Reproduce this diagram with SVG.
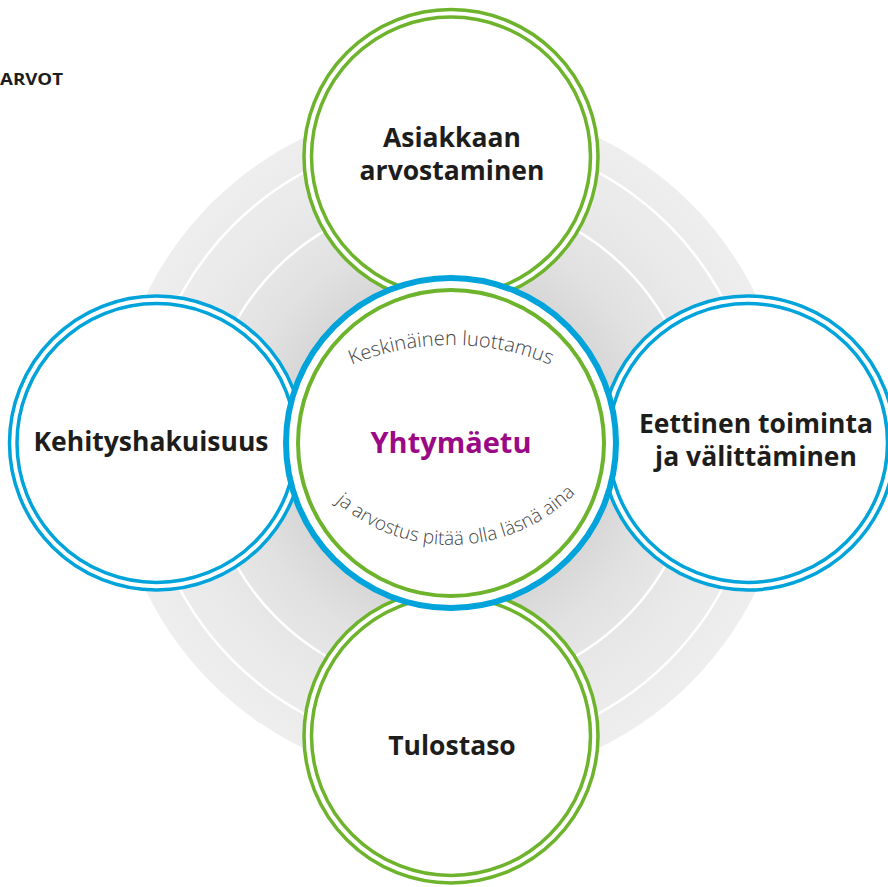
<svg xmlns="http://www.w3.org/2000/svg" width="888" height="887" viewBox="0 0 888 887">
<defs>
<radialGradient id="bg" cx="451" cy="443" r="339" gradientUnits="userSpaceOnUse">
<stop offset="0.46" stop-color="#d5d5d5"/>
<stop offset="0.62" stop-color="#e1e1e1"/>
<stop offset="0.8" stop-color="#e9e9e9"/>
<stop offset="1" stop-color="#eeeeee"/>
</radialGradient>
<path id="arcTop" d="M 285,405 A 260,260 0 0 1 617,405"/>
<path id="arcBot" d="M 290,440 A 176,176 0 0 0 612,440"/>
</defs>
<style>
.ring-g{fill:none;stroke:#6db32c;stroke-width:3.5}
.ring-b{fill:none;stroke:#00a3da;stroke-width:3.5}
.fillw{fill:#ffffff}
.lbl{font-family:"Open Sans","Noto Sans",sans-serif;font-weight:700;font-size:26.5px;fill:#1d1d1b;text-anchor:middle}
.arc{font-family:"Open Sans","Noto Sans",sans-serif;font-weight:300;font-size:20px;fill:#444444}
</style>
<rect width="888" height="887" fill="#ffffff"/>
<g id="background">
<circle cx="451" cy="443" r="339" fill="url(#bg)"/>
<circle cx="451" cy="443" r="308" fill="none" stroke="#ffffff" stroke-width="2.5"/>
<circle cx="451" cy="443" r="247" fill="none" stroke="#ffffff" stroke-width="2.5"/>
</g>
<text id="title" x="0" y="85" style="font-family:'Open Sans','Noto Sans',sans-serif;font-weight:700;font-size:16px;fill:#1d1d1b" textLength="63" lengthAdjust="spacingAndGlyphs">ARVOT</text>
<g id="connectors"></g>
<g id="node-top">
<circle class="fillw" cx="451" cy="156.5" r="147"/>
<circle class="ring-g" cx="451" cy="156.5" r="147"/>
<circle class="ring-g" cx="451" cy="156.5" r="139.5"/>
<text class="lbl" x="452" y="147">Asiakkaan</text>
<text class="lbl" x="452" y="180">arvostaminen</text>
</g>
<g id="node-bottom">
<circle class="fillw" cx="451" cy="736" r="147"/>
<circle class="ring-g" cx="451" cy="736" r="147"/>
<circle class="ring-g" cx="451" cy="736" r="139.5"/>
<text class="lbl" x="452" y="755">Tulostaso</text>
</g>
<g id="node-left">
<circle class="fillw" cx="156.5" cy="443" r="147"/>
<circle class="ring-b" cx="156.5" cy="443" r="147"/>
<circle class="ring-b" cx="156.5" cy="443" r="139.5"/>
<text class="lbl" x="151" y="451">Kehityshakuisuus</text>
</g>
<g id="node-right">
<circle class="fillw" cx="748" cy="443" r="147"/>
<circle class="ring-b" cx="748" cy="443" r="147"/>
<circle class="ring-b" cx="748" cy="443" r="139.5"/>
<text class="lbl" x="756" y="433">Eettinen toiminta</text>
<text class="lbl" x="756" y="466">ja välittäminen</text>
</g>
<g id="node-center">
<circle cx="451" cy="443" r="165" fill="#ffffff" stroke="#00a3da" stroke-width="6"/>
<circle cx="451" cy="443" r="153" fill="none" stroke="#6db32c" stroke-width="4"/>
<text x="451" y="453" style="font-family:'Open Sans','Noto Sans',sans-serif;font-weight:700;font-size:29px;fill:#9b0a86;text-anchor:middle">Yhtymäetu</text>
<text class="arc"><textPath href="#arcTop" startOffset="50%" text-anchor="middle">Keskinäinen luottamus</textPath></text>
<text class="arc" style="font-size:19px"><textPath href="#arcBot" startOffset="51.5%" text-anchor="middle">ja arvostus pitää olla läsnä aina</textPath></text>
</g>
</svg>
